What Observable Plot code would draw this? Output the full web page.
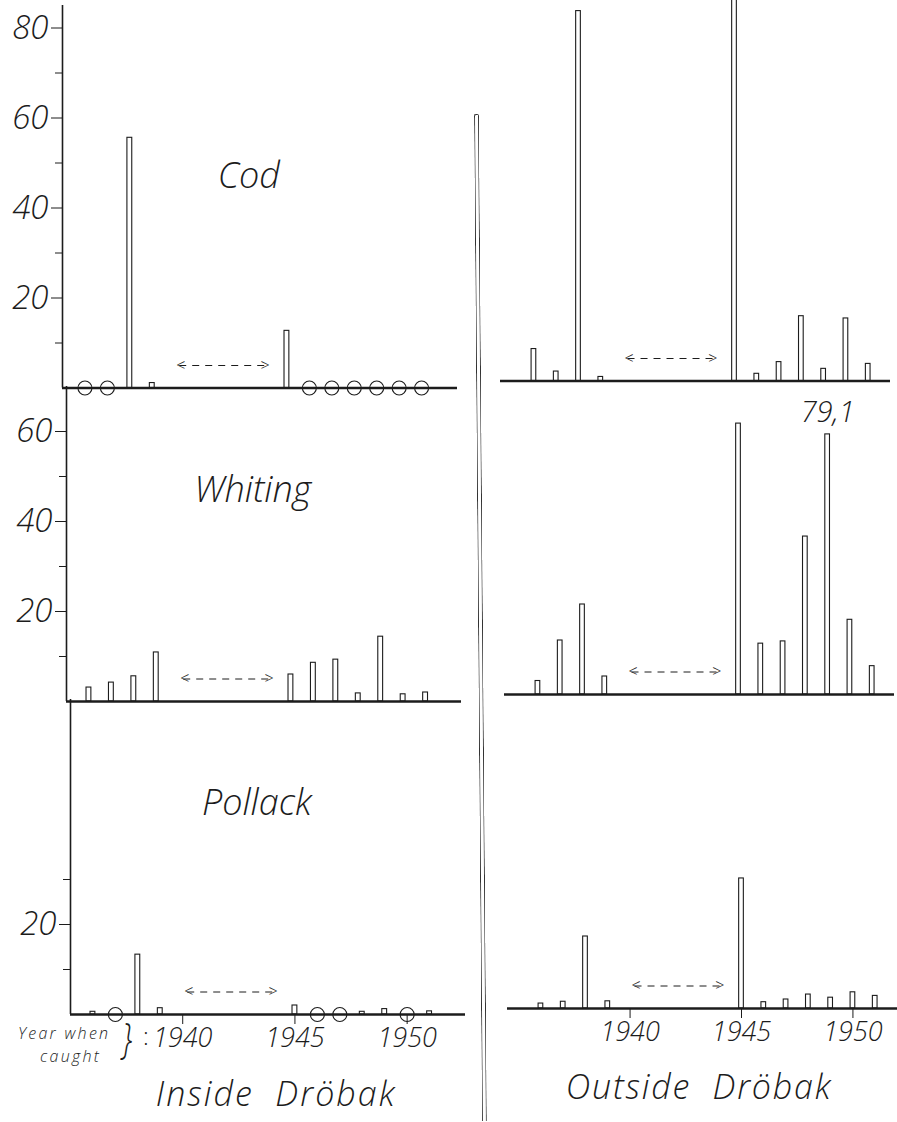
<!DOCTYPE html>
<html>
<head>
<meta charset="utf-8">
<script src="https://cdn.jsdelivr.net/npm/d3@7"></script>
<script src="https://cdn.jsdelivr.net/npm/@observablehq/plot@0.6"></script>
<style>
  html, body { margin: 0; padding: 0; background: #fff; }
  #fig { position: relative; width: 897px; height: 1122px; overflow: hidden; background: #fff;
         font-family: "Open Sans", "DejaVu Sans", sans-serif; font-style: italic; font-weight: 300; color: #1c1c1c; }
  #fig svg { position: absolute; left: 0; }
  .t { position: absolute; white-space: pre; line-height: 1; }
  #divider { position: absolute; left: 474px; top: 114px; width: 3px; height: 1006px;
             border: 1px solid #333; border-bottom: none; border-radius: 2px 2px 0 0;
             transform-origin: top center; transform: rotate(-0.45deg); }
</style>
</head>
<body>
<div id="fig">
  <div id="divider"></div>
</div>
<script>
// ---------------- data ----------------
const years = [1936, 1937, 1938, 1939, 1945, 1946, 1947, 1948, 1949, 1950, 1951];
// null = circle on the base line (no catch)
const codInside      = [null, null, 55.6, 1.1, 12.7, null, null, null, null, null, null];
const codOutside     = [7.1, 2.1, 82.2, 0.9, 90, 1.6, 4.2, 14.4, 2.7, 13.9, 3.8];
const whitingInside  = [3.1, 4.2, 5.6, 10.9, 6.0, 8.6, 9.3, 1.8, 14.4, 1.6, 2.0];
const whitingOutside = [3.0, 12.0, 20.0, 4.0, 60.2, 11.3, 11.8, 35.1, 57.8, 16.6, 6.3];
const pollackInside  = [0.6, null, 13.3, 1.4, 2.0, null, null, 0.6, 1.2, null, 0.7];
const pollackOutside = [1.1, 1.5, 16.0, 1.6, 28.9, 1.4, 2.0, 3.1, 2.4, 3.6, 2.8];

const species = ["Cod", "Whiting", "Pollack"];
const warGap = [1940.2, 1944.1];           // years without data (dashed double arrow)
const yearTicks = [1940, 1945, 1950];
const codTickLabels = [20, 40, 60, 80],  codMinorTicks = [10, 30, 50, 70];
const whitingTickLabels = [20, 40, 60],  whitingMinorTicks = [10, 30, 50];
const pollackTickLabels = [20],          pollackMinorTicks = [10, 30];
const noteYears = [1949];                 // whiting outside: bar broken, true value written
const noteTexts = ["79,1"];
const columnTitles = ["Inside  Dröbak", "Outside  Dröbak"];
const yearCaption = ["Year when", "caught"];

// ---------------- layout ----------------
const INK = "#1c1c1c";
const FONT = "'Open Sans', 'DejaVu Sans', sans-serif";
const PX = 4.5;          // pixels per unit on the y scale
const W = 897;
const fig = document.getElementById("fig");

const panels = [
  {label: species[0], values: codInside,      baseline: 387,  yMax: 85, xDomain: [1935, 1952.6], xRange: [62, 457], major: codTickLabels,     minor: codMinorTicks},
  {label: species[1], values: whitingInside,  baseline: 701,  yMax: 70, xDomain: [1935, 1952.6], xRange: [66, 461], major: whitingTickLabels, minor: whitingMinorTicks},
  {label: species[2], values: pollackInside,  baseline: 1014, yMax: 70, xDomain: [1935, 1952.6], xRange: [70, 465], major: pollackTickLabels, minor: pollackMinorTicks, xAxis: true},
  {values: codOutside,     baseline: 380,  yMax: 85, xDomain: [1934.5, 1952], xRange: [500, 890]},
  {values: whitingOutside, baseline: 694,  yMax: 70, xDomain: [1934.5, 1952], xRange: [504, 894],
   notes: noteYears.map((year, i) => ({year, value: whitingOutside[years.indexOf(year)], text: noteTexts[i]}))},
  {values: pollackOutside, baseline: 1008, yMax: 70, xDomain: [1934.5, 1952], xRange: [507, 897], xAxis: true}
];

function makePanel(p) {
  const rows = years.map((year, i) => ({year, value: p.values[i]}));
  const bars = rows.filter(d => d.value != null);
  const empty = rows.filter(d => d.value == null);
  const MT = 40, MB = 50;
  const inner = p.yMax * PX;
  const marks = [];
  const hasYAxis = !!p.major;
  if (hasYAxis) {
    marks.push(Plot.ruleX([p.xDomain[0]], {stroke: INK, strokeWidth: 1.6}));
    marks.push(Plot.axisY(p.minor, {tickSize: 7, tickFormat: () => "", stroke: INK, label: null}));
    marks.push(Plot.axisY(p.major, {tickSize: 11, tickPadding: 3, fontSize: 33, fill: INK, stroke: INK, label: null}));
  }
  marks.push(Plot.rectY(bars, {
    x1: d => d.year - 0.5, x2: d => d.year + 0.5, y1: 0, y2: "value",
    insetLeft: 8.8, insetRight: 8.8, fill: "white", stroke: INK, strokeWidth: 1.1, clip: true
  }));
  marks.push(Plot.ruleY([0], {stroke: INK, strokeWidth: 2.3}));
  marks.push(Plot.dot(empty, {x: "year", y: 0, r: 7, stroke: INK, strokeWidth: 1.1, fill: "none"}));
  // dashed double arrow over the war-time gap
  marks.push(Plot.link([warGap], {x1: d => d[0], x2: d => d[1], y1: 5, y2: 5,
    stroke: INK, strokeWidth: 1, strokeDasharray: "7 6"}));
  marks.push(Plot.text(["<"], {x: warGap[0], y: 5, text: d => d, fontSize: 16, fill: INK, textAnchor: "start", dx: -3, fontStyle: "normal"}));
  marks.push(Plot.text([">"], {x: warGap[1], y: 5, text: d => d, fontSize: 16, fill: INK, textAnchor: "end", dx: 3, fontStyle: "normal"}));
  if (p.label) {
    marks.push(Plot.text([p.label], {x: 1943.3, y: 47, text: d => d, fontSize: 36, fill: INK}));
  }
  if (p.notes) {
    marks.push(Plot.text(p.notes, {x: "year", y: "value", text: "text", dy: -22, fontSize: 29, fill: INK}));
  }
  if (p.xAxis) {
    marks.push(Plot.axisX(yearTicks, {tickSize: 10, tickPadding: 3, fontSize: 27, fill: INK, stroke: INK,
      tickFormat: d => String(d), label: null}));
  }
  const svg = Plot.plot({
    width: W,
    height: MT + inner + MB,
    marginTop: MT, marginBottom: MB,
    marginLeft: p.xRange[0], marginRight: W - p.xRange[1],
    x: {domain: p.xDomain, ...(p.xAxis ? {} : {axis: null}), label: null},
    y: {domain: [0, p.yMax], ...(hasYAxis ? {} : {axis: null}), label: null},
    style: {background: "transparent", overflow: "visible", fontFamily: FONT,
            fontStyle: "italic", fontWeight: 300, color: INK},
    marks
  });
  svg.style.top = (p.baseline - inner - MT) + "px";
  fig.appendChild(svg);
}

panels.forEach(makePanel);

// ---------------- captions ----------------
function addText(txt, left, top, size, extra = "") {
  const d = document.createElement("div");
  d.className = "t";
  d.textContent = txt;
  d.style.cssText = `left:${left}px;top:${top}px;font-size:${size}px;${extra}`;
  fig.appendChild(d);
  return d;
}
// "Year when / caught" as one two-line text block
const cap = addText("", 18, 1022, 16, "line-height:22.5px;letter-spacing:2.3px;");
cap.appendChild(document.createTextNode(yearCaption[0]));
cap.appendChild(document.createElement("br"));
const capLine2 = document.createElement("span");
capLine2.style.paddingLeft = "22px";
capLine2.textContent = yearCaption[1];
cap.appendChild(capLine2);

addText("}", 120, 1016, 42, "transform:scaleX(0.75);");
addText(":", 143, 1024, 24, "font-style:normal;");
addText(columnTitles[0], 0, 1076, 34, "width:552px;text-align:center;letter-spacing:2px;");
addText(columnTitles[1], 0, 1069, 34, "width:1398px;text-align:center;letter-spacing:1.8px;");
</script>
</body>
</html>
